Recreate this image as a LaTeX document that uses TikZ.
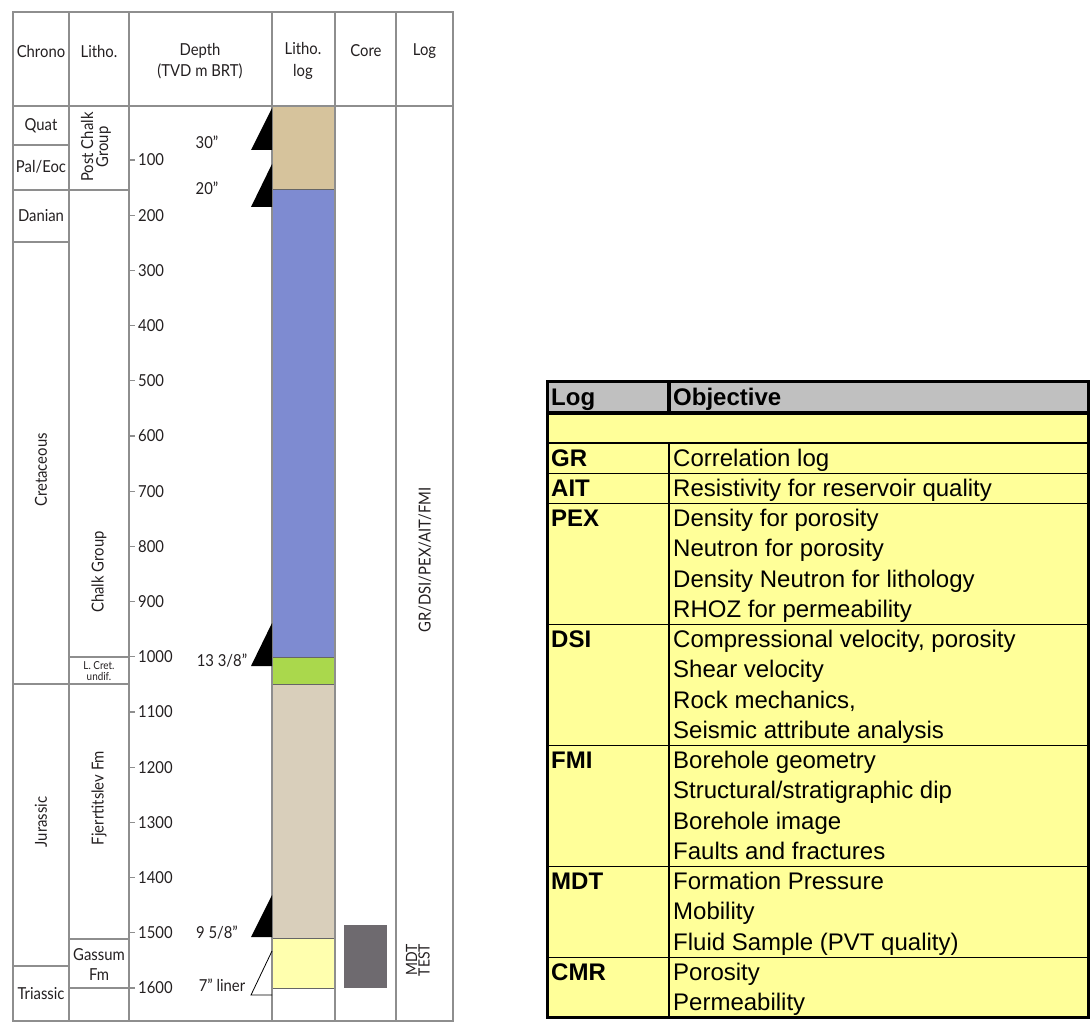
\documentclass[tikz,border=0pt]{standalone}
\usepackage{fontspec}
\setmainfont[FakeStretch=0.9]{Lato}
\newfontfamily\arialf{Liberation Sans}
\definecolor{linegray}{HTML}{8E8E8E}
\definecolor{txtdark}{HTML}{231F20}
\definecolor{tanc}{HTML}{D6C39C}
\definecolor{bluec}{HTML}{7E8BD1}
\definecolor{greenc}{HTML}{AAD84C}
\definecolor{beigec}{HTML}{D9CFBB}
\definecolor{yellc}{HTML}{FFFFAE}
\definecolor{corec}{HTML}{6E6A6F}
\definecolor{hdrgray}{HTML}{C0C0C0}
\definecolor{tabyell}{HTML}{FFFF99}
\begin{document}
\begin{tikzpicture}[x=1pt,y=-1pt,
  gridline/.style={draw=linegray,line width=1.3pt},
  lbl/.style={font=\fontsize{16.5}{18}\selectfont,text=txtdark,inner sep=0pt},
  hdr/.style={lbl,align=center,font=\fontsize{16.5}{21.5}\selectfont},
  litho/.style={draw=black!60,line width=0.7pt},
  shoe/.style={fill=black},
  logtxt/.style={font=\arialf\bfseries\fontsize{24}{28}\selectfont,anchor=base west,inner sep=0pt},
  objtxt/.style={font=\arialf\fontsize{24}{28}\selectfont,anchor=base west,inner sep=0pt},
  tabthin/.style={draw=black,line width=1.2pt},
  tabthick/.style={draw=black,line width=3.2pt}
]
\useasboundingbox (0,0) rectangle (1091,1024);

% ---------------- left chart ----------------
% litho log fills
\filldraw[litho,fill=tanc]   (272,106) rectangle (335,189);
\filldraw[litho,fill=bluec]  (272,189) rectangle (335,657);
\filldraw[litho,fill=greenc] (272,657) rectangle (335,684);
\filldraw[litho,fill=beigec] (272,684) rectangle (335,938);
\filldraw[litho,fill=yellc]  (272,938) rectangle (335,988);
% core
\fill[corec] (344,925) rectangle (387,988);

% outer frame and columns
\draw[gridline] (13,12) rectangle (453,1021);
\draw[gridline] (13,106) -- (453,106);
\foreach \x in {69,129,272,335,396} \draw[gridline] (\x,12) -- (\x,1021);
% chrono boundaries
\foreach \y in {145,242,966} \draw[gridline] (13,\y) -- (69,\y);
% chrono+litho boundaries
\foreach \y in {190,684} \draw[gridline] (13,\y) -- (129,\y);
% litho boundaries
\foreach \y in {657,939,988} \draw[gridline] (69,\y) -- (129,\y);

% depth ticks and labels
\foreach \d in {100,200,...,1600}{
  \draw[gridline] (129,{104.8+0.552*\d}) -- (135,{104.8+0.552*\d});
  \node[lbl,anchor=west] (d\d) at (138,{104.8+0.552*\d}) {\d};
}

% casing shoes
\fill[shoe] (272,108) -- (251,150) -- (272,150) -- cycle;
\fill[shoe] (272,164) -- (251,207) -- (272,207) -- cycle;
\fill[shoe] (272,623) -- (251,666) -- (272,666) -- cycle;
\fill[shoe] (272,895) -- (251,937) -- (272,937) -- cycle;
\draw[black,line width=0.8pt] (272,951) -- (251,995) -- (272,995);
\node[lbl] (c30) at (207,142) {30"};
\node[lbl] (c20) at (207,188) {20"};
\node[lbl] (c13) at (222,661) {13 3/8"};
\node[lbl] (c9) at (217,933) {9 5/8"};
\node[lbl] (c7) at (222,985) {7" liner};

% headers
\node[hdr] (hChrono) at (41,51) {Chrono};
\node[hdr] (hLitho) at (99,51) {Litho.};
\node[hdr] (hDepth) at (200,61) {Depth\\(TVD m BRT)};
\node[hdr] (hLlog) at (303,61) {Litho.\\log};
\node[hdr] (hCore) at (366,51) {Core};
\node[hdr] (hLog) at (424.5,51) {Log};

% chrono names
\node[lbl] (quat) at (41,126) {Quat};
\node[lbl] (paleoc) at (41,167) {Pal/Eoc};
\node[lbl] (danian) at (41,216) {Danian};
\node[lbl,rotate=90] (cret) at (41,470) {Cretaceous};
\node[lbl,rotate=90] (jur) at (41,822) {Jurassic};
\node[lbl] (tri) at (41,994) {Triassic};

% litho names
\node[lbl,rotate=90,align=center,font=\fontsize{16.5}{15}\selectfont] (pcg) at (96,147) {Post Chalk\\Group};
\node[lbl,rotate=90] (chalk) at (99,572) {Chalk Group};
\node[lbl,align=center,font=\fontsize{11}{11.5}\selectfont] (lcret) at (99,671) {L. Cret.\\undif.};
\node[lbl,rotate=90] (fjer) at (99,798) {Fjerrtitslev Fm};
\node[lbl,align=center,font=\fontsize{16.5}{20}\selectfont] (gassum) at (99,965) {Gassum\\Fm};

% log column
\node[lbl,rotate=90] (logs) at (425,560) {GR/DSI/PEX/AIT/FMI};
\node[lbl,rotate=90,align=center,font=\fontsize{15.5}{12.5}\selectfont] (mdt) at (418,960) {MDT\\TEST};

% ---------------- table ----------------
\fill[hdrgray] (547,381) rectangle (1089,413);
\fill[tabyell] (547,413) rectangle (1089,1018);
\foreach \i in {0,1,2,6,10,14,17} \draw[tabthin] (547,{443+\i*30.26}) -- (1089,{443+\i*30.26});
\draw[tabthin] (669,443) -- (669,1018);
\draw[tabthick] (669,381) -- (669,413);
\draw[tabthick] (547,413) -- (1089,413);
\draw[tabthick] (547.5,381.5) rectangle (1088.5,1017.5);

\node[logtxt] (tLog) at (551,405) {Log};
\node[logtxt] (tObj) at (673,405) {Objective};

\newcommand\lgname[2]{\node[logtxt] (L#1) at (551,{443+(#1)*30.26+23}) {#2};}
\newcommand\objrow[2]{\node[objtxt] (O#1) at (673,{443+(#1)*30.26+23}) {#2};}
\lgname{0}{GR}\lgname{1}{AIT}\lgname{2}{PEX}\lgname{6}{DSI}
\lgname{10}{FMI}\lgname{14}{MDT}\lgname{17}{CMR}
\objrow{0}{Correlation log}
\objrow{1}{Resistivity for reservoir quality}
\objrow{2}{Density for porosity}
\objrow{3}{Neutron for porosity}
\objrow{4}{Density Neutron for lithology}
\objrow{5}{RHOZ for permeability}
\objrow{6}{Compressional velocity, porosity}
\objrow{7}{Shear velocity}
\objrow{8}{Rock mechanics,}
\objrow{9}{Seismic attribute analysis}
\objrow{10}{Borehole geometry}
\objrow{11}{Structural/stratigraphic dip}
\objrow{12}{Borehole image}
\objrow{13}{Faults and fractures}
\objrow{14}{Formation Pressure}
\objrow{15}{Mobility}
\objrow{16}{Fluid Sample (PVT quality)}
\objrow{17}{Porosity}
\objrow{18}{Permeability}
\end{tikzpicture}
\end{document}
